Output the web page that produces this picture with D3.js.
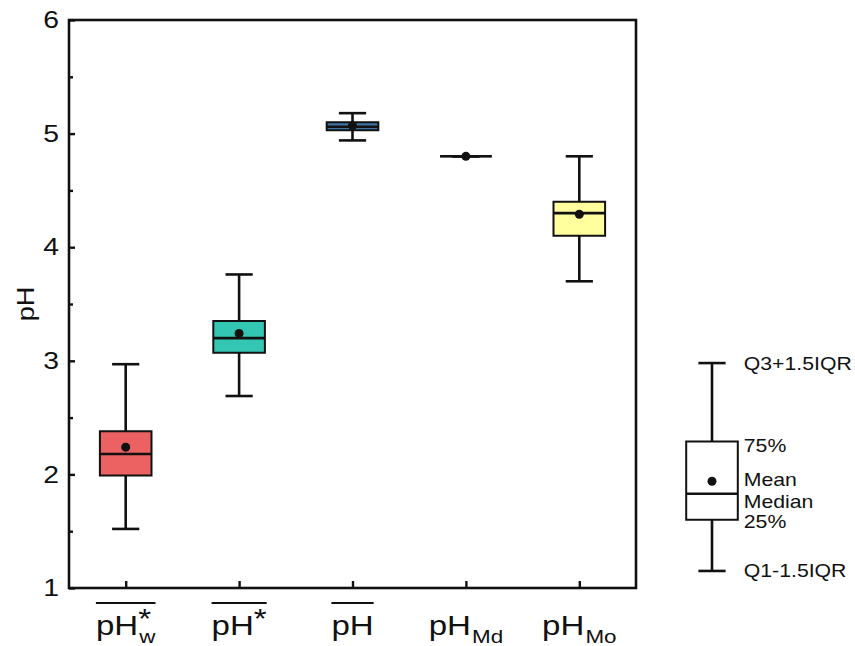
<!DOCTYPE html>
<html lang="en">
<head>
    <meta charset="UTF-8">
    <title>pH box plot</title>
    <script src="https://d3js.org/d3.v7.min.js"></script>
    <style>
      body { margin: 0; background: #fff; }
      text { font-family: Arial, "Liberation Sans", sans-serif; fill: #111; }
    </style>
</head>
<body>
    <svg id="chart" width="855" height="646"></svg>

    <script>
      // box statistics, one entry per category
      let categories  = ["pHw*", "pH*", "pH", "pHMd", "pHMo"]
      let whiskerLow  = [1.52, 2.69, 4.94, 4.80, 3.70]
      let q1          = [1.99, 3.07, 5.03, 4.80, 4.10]
      let median      = [2.18, 3.20, 5.06, 4.80, 4.30]
      let q3          = [2.38, 3.35, 5.10, 4.80, 4.40]
      let whiskerHigh = [2.97, 3.76, 5.18, 4.80, 4.80]
      let means       = [2.24, 3.24, 5.07, 4.80, 4.29]
      let boxColors   = ["#ec6262", "#33c6b2", "#3f74a6", "#ffffff", "#ffff9e"]

      // tick label pieces (base text, subscript, superscript, overline)
      let labelSub = ["w", "", "", "Md", "Mo"]
      let labelSup = ["*", "*", "", "", ""]
      let labelBar = [true, true, true, false, false]

      let yTicks = [1, 2, 3, 4, 5, 6]
      let yMinorTicks = [1.5, 2.5, 3.5, 4.5, 5.5]

      // legend box (drawn on the same pH scale)
      let legendStats = {low: 1.15, q1: 1.60, median: 1.83, mean: 1.94, q3: 2.29, high: 2.98}
      let legendLabels = [
        {text: "Q3+1.5IQR", key: "high"},
        {text: "75%", key: "q3"},
        {text: "Mean", key: "mean"},
        {text: "Median", key: "median"},
        {text: "25%", key: "q1"},
        {text: "Q1-1.5IQR", key: "low"}
      ]
      let legendDy = [7, 11, 5, 14, 8, 6]

      let boxes = categories.map((c, i) => ({
        cat: c, lo: whiskerLow[i], q1: q1[i], med: median[i], q3: q3[i],
        hi: whiskerHigh[i], mean: means[i], color: boxColors[i]
      }))

      let plotL = 69, plotR = 636, plotT = 20, plotB = 588
      let sx = 1.18   // the lettering in the picture is a bit wider than Arial
      let svg = d3.select("#chart")

      let xScale = d3.scalePoint().domain(categories).range([plotL, plotR]).padding(0.5)
      let yScale = d3.scaleLinear().domain([1, 6]).range([plotB, plotT])
      let step = xScale.step()
      let boxW = step * 0.455, capW = step * 0.24

      // wide text helper
      function wideText(sel, x, y, size, str) {
        return sel.append("text")
          .attr("transform", `translate(${x},${y}) scale(${sx},1)`)
          .attr("font-size", size).text(str)
      }

      // frame
      svg.append("rect")
        .attr("x", plotL).attr("y", plotT)
        .attr("width", plotR - plotL).attr("height", plotB - plotT)
        .attr("fill", "none").attr("stroke", "#111").attr("stroke-width", 2.6)

      // y axis, ticks pointing inward
      let yAxis = d3.axisLeft(yScale).tickValues(yTicks).tickFormat(d3.format("d"))
        .tickSizeInner(-6).tickSizeOuter(0).tickPadding(10 / sx)
      let yG = svg.append("g").attr("transform", `translate(${plotL},0)`).call(yAxis)
      yG.select(".domain").remove()
      yG.selectAll("line").attr("stroke", "#111").attr("stroke-width", 2.4)
      yG.selectAll("text").attr("font-size", 24).attr("fill", "#111")
        .attr("font-family", "Arial, 'Liberation Sans', sans-serif")
        .attr("transform", `scale(${sx},1)`)

      let yMinor = d3.axisLeft(yScale).tickValues(yMinorTicks).tickSize(-4).tickFormat("")
      let yM = svg.append("g").attr("transform", `translate(${plotL},0)`).call(yMinor)
      yM.select(".domain").remove()
      yM.selectAll("line").attr("stroke", "#111").attr("stroke-width", 2.4)

      // x axis ticks, inward, labels drawn separately
      let xAxis = d3.axisBottom(xScale).tickSizeInner(-7).tickSizeOuter(0).tickFormat("")
      let xG = svg.append("g").attr("transform", `translate(0,${plotB})`).call(xAxis)
      xG.select(".domain").remove()
      xG.selectAll("line").attr("stroke", "#111").attr("stroke-width", 2.4)

      svg.append("text")
        .attr("transform", `translate(34,${yScale(3.5)}) rotate(-90) scale(${sx},1)`)
        .attr("text-anchor", "middle").attr("font-size", 23)
        .text("pH")

      // category labels: one text each, sup/sub as tspans
      let baseY = 635
      categories.forEach((c, i) => {
        let g = svg.append("g")
        let t = wideText(g, 0, baseY, 28, null)
        let main = t.append("tspan").text("pH")
        let w = main.node().getComputedTextLength()
        let extra = 0
        if (labelSup[i]) {
          let s = t.append("tspan").attr("x", w).attr("y", -7).text(labelSup[i])
          extra = Math.max(extra, s.node().getComputedTextLength())
        }
        if (labelSub[i]) {
          let s = t.append("tspan").attr("x", w + 1).attr("y", 8).attr("font-size", 19).text(labelSub[i])
          extra = Math.max(extra, s.node().getComputedTextLength() + 1)
        }
        let total = (w + extra) * sx
        if (labelBar[i]) {
          g.append("line").attr("x1", 0).attr("x2", total)
            .attr("y1", baseY - 32).attr("y2", baseY - 32)
            .attr("stroke", "#111").attr("stroke-width", 2)
        }
        g.attr("transform", `translate(${xScale(c) - total / 2},0)`)
      })

      // draws one box with whiskers at centre cx
      function drawBox(sel, cx, d, fill) {
        let stroke = "#111", sw = 2.6
        sel.append("line").attr("x1", cx).attr("x2", cx)
          .attr("y1", yScale(d.hi)).attr("y2", yScale(d.q3)).attr("stroke", stroke).attr("stroke-width", sw)
        sel.append("line").attr("x1", cx).attr("x2", cx)
          .attr("y1", yScale(d.q1)).attr("y2", yScale(d.lo)).attr("stroke", stroke).attr("stroke-width", sw)
        sel.append("line").attr("x1", cx - capW / 2).attr("x2", cx + capW / 2)
          .attr("y1", yScale(d.hi)).attr("y2", yScale(d.hi)).attr("stroke", stroke).attr("stroke-width", sw)
        sel.append("line").attr("x1", cx - capW / 2).attr("x2", cx + capW / 2)
          .attr("y1", yScale(d.lo)).attr("y2", yScale(d.lo)).attr("stroke", stroke).attr("stroke-width", sw)
        let x0 = cx - boxW / 2, x1 = cx + boxW / 2
        sel.append("path")
          .attr("d", `M${x0},${yScale(d.q3)}H${x1}V${yScale(d.q1)}H${x0}Z`)
          .attr("fill", fill).attr("stroke", stroke).attr("stroke-width", 2)
        sel.append("line").attr("x1", x0).attr("x2", x1)
          .attr("y1", yScale(d.med)).attr("y2", yScale(d.med)).attr("stroke", stroke).attr("stroke-width", 2.6)
        sel.append("circle").attr("cx", cx).attr("cy", yScale(d.mean)).attr("r", 4.5).attr("fill", stroke)
      }

      boxes.forEach(d => drawBox(svg.append("g"), xScale(d.cat), d, d.color))

      // legend
      let legX = 712
      let lg = svg.append("g")
      drawBox(lg, legX, {lo: legendStats.low, q1: legendStats.q1, med: legendStats.median,
        q3: legendStats.q3, hi: legendStats.high, mean: legendStats.mean}, "#fff")
      legendLabels.forEach((l, i) => {
        wideText(lg, legX + boxW / 2 + 6, yScale(legendStats[l.key]) + legendDy[i], 18, l.text)
      })
    </script>
</body>
</html>
